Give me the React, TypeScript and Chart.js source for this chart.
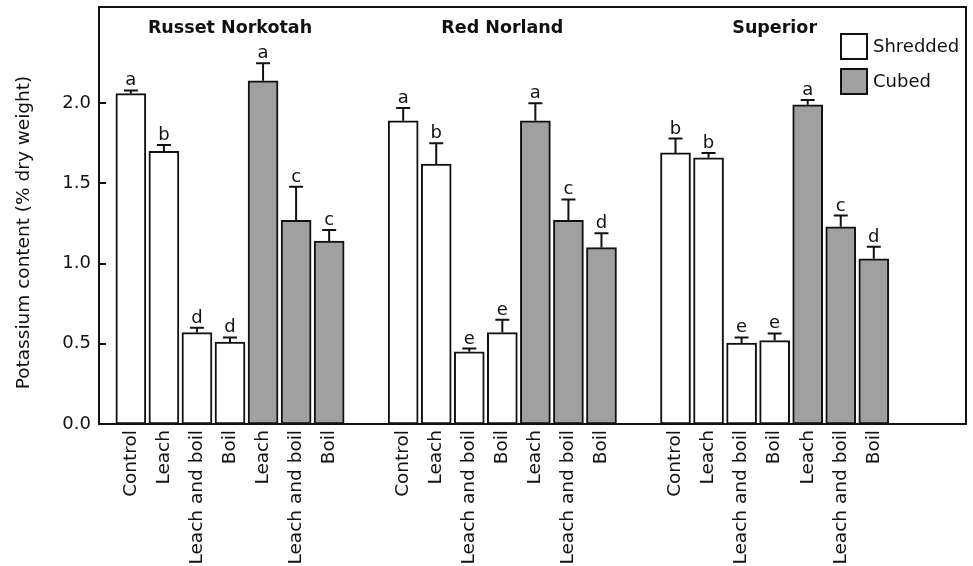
import React, { useEffect, useRef } from 'react';
import { Chart, registerables } from 'chart.js';

Chart.register(...registerables);

// Potato varieties, each drawn as one cluster of bars
const varieties = ['Russet Norkotah', 'Red Norland', 'Superior'];
const shreddedTreatments = ['Control', 'Leach', 'Leach and boil', 'Boil'];
const cubedTreatments = ['Leach', 'Leach and boil', 'Boil'];

// Potassium content (% dry weight): means, upper error and significance letters
const russetShredded = [2.06, 1.70, 0.57, 0.51];
const russetShreddedErr = [0.02, 0.04, 0.03, 0.03];
const russetShreddedLetters = ['a', 'b', 'd', 'd'];
const russetCubed = [2.14, 1.27, 1.14];
const russetCubedErr = [0.11, 0.21, 0.07];
const russetCubedLetters = ['a', 'c', 'c'];

const redShredded = [1.89, 1.62, 0.45, 0.57];
const redShreddedErr = [0.08, 0.13, 0.02, 0.08];
const redShreddedLetters = ['a', 'b', 'e', 'e'];
const redCubed = [1.89, 1.27, 1.10];
const redCubedErr = [0.11, 0.13, 0.09];
const redCubedLetters = ['a', 'c', 'd'];

const superiorShredded = [1.69, 1.66, 0.505, 0.52];
const superiorShreddedErr = [0.09, 0.03, 0.035, 0.045];
const superiorShreddedLetters = ['b', 'b', 'e', 'e'];
const superiorCubed = [1.99, 1.23, 1.03];
const superiorCubedErr = [0.03, 0.07, 0.075];
const superiorCubedLetters = ['a', 'c', 'd'];

const yTicks = [0, 0.5, 1.0, 1.5, 2.0];

// Bar slots per cluster (7 bars plus the gap to the next cluster)
const groupSpacing = 8.24;

const groups = [
  { s: russetShredded, se: russetShreddedErr, sl: russetShreddedLetters, c: russetCubed, ce: russetCubedErr, cl: russetCubedLetters },
  { s: redShredded, se: redShreddedErr, sl: redShreddedLetters, c: redCubed, ce: redCubedErr, cl: redCubedLetters },
  { s: superiorShredded, se: superiorShreddedErr, sl: superiorShreddedLetters, c: superiorCubed, ce: superiorCubedErr, cl: superiorCubedLetters },
];

type Pt = { x: number; y: number; err: number; letter: string };

const shreddedPoints: Pt[] = [];
const cubedPoints: Pt[] = [];
const xTickValues: number[] = [];
const xTickLabels: string[] = [];

groups.forEach((g, gi) => {
  const base = gi * groupSpacing;
  g.s.forEach((v, k) => {
    shreddedPoints.push({ x: base + k, y: v, err: g.se[k], letter: g.sl[k] });
    xTickValues.push(base + k);
    xTickLabels.push(shreddedTreatments[k]);
  });
  g.c.forEach((v, k) => {
    const pos = base + shreddedTreatments.length + k;
    cubedPoints.push({ x: pos, y: v, err: g.ce[k], letter: g.cl[k] });
    xTickValues.push(pos);
    xTickLabels.push(cubedTreatments[k]);
  });
});

const INK = '#111111';
const FONT = "'DejaVu Sans', sans-serif";

const errorBarsPlugin = {
  id: 'errorBarsAndLetters',
  afterDatasetsDraw(chart: any) {
    const { ctx } = chart;
    const yScale = chart.scales.y;
    ctx.save();
    ctx.strokeStyle = INK;
    ctx.fillStyle = INK;
    ctx.lineWidth = 2;
    ctx.font = `18px ${FONT}`;
    ctx.textAlign = 'center';
    ctx.textBaseline = 'alphabetic';
    chart.data.datasets.forEach((ds: any, di: number) => {
      const meta = chart.getDatasetMeta(di);
      meta.data.forEach((bar: any, i: number) => {
        const raw = ds.data[i] as Pt;
        const yTop = yScale.getPixelForValue(raw.y + raw.err);
        ctx.beginPath();
        ctx.moveTo(bar.x, bar.y);
        ctx.lineTo(bar.x, yTop);
        ctx.moveTo(bar.x - 7, yTop);
        ctx.lineTo(bar.x + 7, yTop);
        ctx.stroke();
        ctx.fillText(raw.letter, bar.x, yTop - 5);
      });
    });
    ctx.restore();
  },
};

const framePlugin = {
  id: 'frameAndDecor',
  afterDraw(chart: any) {
    const { ctx, chartArea } = chart;
    const { left, top, right, bottom } = chartArea;
    const xScale = chart.scales.x;
    const yScale = chart.scales.y;
    ctx.save();
    ctx.strokeStyle = INK;
    ctx.lineWidth = 2;
    ctx.strokeRect(left, top, right - left, bottom - top);

    // inward ticks on the value axis
    ctx.beginPath();
    yTicks.forEach((v) => {
      const py = Math.round(yScale.getPixelForValue(v));
      ctx.moveTo(left, py);
      ctx.lineTo(left + 7, py);
    });
    ctx.stroke();

    // variety titles
    ctx.fillStyle = INK;
    ctx.font = `bold 17.5px ${FONT}`;
    ctx.textAlign = 'center';
    ctx.textBaseline = 'alphabetic';
    varieties.forEach((name, gi) => {
      const px = xScale.getPixelForValue(gi * groupSpacing + 3);
      ctx.fillText(name, px, top + 26);
    });

    // legend
    ctx.font = `18px ${FONT}`;
    ctx.textAlign = 'left';
    ctx.textBaseline = 'middle';
    chart.data.datasets.forEach((ds: any, di: number) => {
      const bx = right - 125;
      const by = top + 27 + di * 35;
      ctx.fillStyle = ds.backgroundColor;
      ctx.fillRect(bx, by, 26, 25);
      ctx.strokeRect(bx, by, 26, 25);
      ctx.fillStyle = INK;
      ctx.fillText(ds.label, bx + 32, by + 13);
    });

    // value axis title
    ctx.save();
    ctx.translate(24, (top + bottom) / 2 + 17);
    ctx.rotate(-Math.PI / 2);
    ctx.textAlign = 'center';
    ctx.textBaseline = 'middle';
    ctx.font = `18.5px ${FONT}`;
    ctx.fillText('Potassium content (% dry weight)', 0, 0);
    ctx.restore();

    ctx.restore();
  },
};

export default function App() {
  const canvasRef = useRef<HTMLCanvasElement | null>(null);

  useEffect(() => {
    if (!canvasRef.current) return;
    const chart = new Chart(canvasRef.current, {
      type: 'bar',
      data: {
        datasets: [
          {
            label: 'Shredded',
            data: shreddedPoints as any,
            backgroundColor: '#ffffff',
            borderColor: INK,
            borderWidth: 2,
            borderSkipped: false,
          },
          {
            label: 'Cubed',
            data: cubedPoints as any,
            backgroundColor: '#a0a0a0',
            borderColor: INK,
            borderWidth: 2,
            borderSkipped: false,
          },
        ],
      },
      options: {
        responsive: false,
        animation: false,
        devicePixelRatio: 1,
        grouped: false,
        barThickness: 30,
        layout: { padding: { left: 0, top: 7, right: 7, bottom: 0 } },
        plugins: {
          legend: { display: false },
          tooltip: { enabled: false },
        },
        scales: {
          x: {
            type: 'linear',
            min: -0.964,
            max: 25.27,
            offset: false,
            grid: { display: false, drawTicks: false },
            border: { display: false },
            afterBuildTicks: (scale: any) => {
              scale.ticks = xTickValues.map((v) => ({ value: v }));
            },
            afterFit: (scale: any) => {
              scale.height = 142;
              scale.paddingLeft = 0;
              scale.paddingRight = 0;
            },
            ticks: {
              autoSkip: false,
              minRotation: 90,
              maxRotation: 90,
              padding: 6,
              color: INK,
              font: { family: FONT, size: 18.5 },
              callback: (_v: any, i: number) => xTickLabels[i],
            },
          },
          y: {
            type: 'linear',
            min: 0,
            max: 2.6,
            grid: { display: false, drawTicks: false },
            border: { display: false },
            afterBuildTicks: (scale: any) => {
              scale.ticks = yTicks.map((v) => ({ value: v }));
            },
            afterFit: (scale: any) => {
              scale.width = 99;
              scale.paddingTop = 0;
              scale.paddingBottom = 0;
            },
            ticks: {
              padding: 8,
              color: INK,
              font: { family: FONT, size: 18 },
              callback: (v: any) => Number(v).toFixed(1),
            },
          },
        },
      } as any,
      plugins: [errorBarsPlugin, framePlugin],
    });
    return () => chart.destroy();
  }, []);

  return (
    <div style={{ position: 'fixed', left: 0, top: 0, width: 973, height: 566, background: '#ffffff' }}>
      <canvas ref={canvasRef} width={973} height={566} />
    </div>
  );
}
